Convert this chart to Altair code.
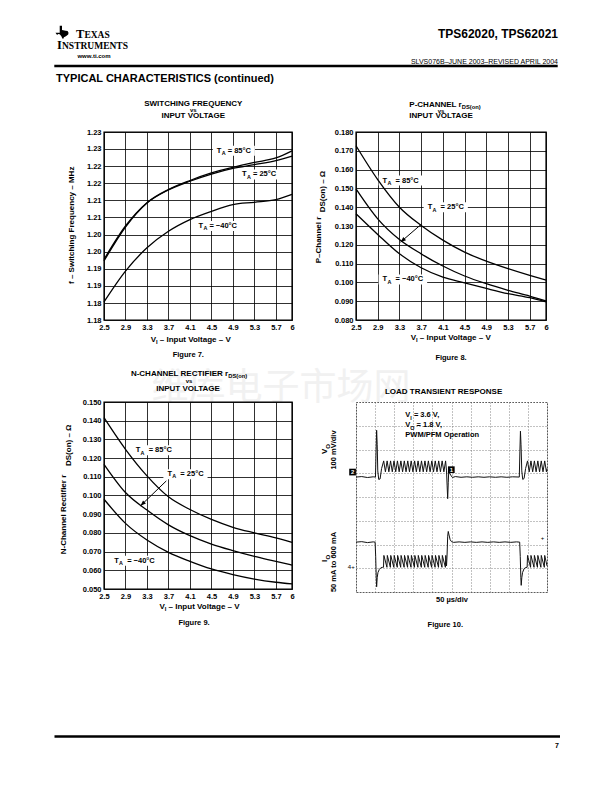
import math
import altair as alt
import pandas as pd

FONT = "Liberation Sans"
SERIF = "Liberation Serif"
CJK = "Noto Sans CJK SC"

# ---------------- data ----------------
V_IN = [2.5, 2.9, 3.3, 3.7, 4.1, 4.5, 4.9, 5.3, 5.7, 6.0]
X_TICKS = [2.5, 2.9, 3.3, 3.7, 4.1, 4.5, 4.9, 5.3, 5.7, 6.0]
TEMPS = ["85", "25", "-40"]

# Figure 7: switching frequency (MHz)
F7_Y_TICKS = [1.1800, 1.1845, 1.1891, 1.1936, 1.1982, 1.2027, 1.2073, 1.2118, 1.2164, 1.2209, 1.2255, 1.2300]
F7_85 = [1.1961, 1.2050, 1.2112, 1.2147, 1.2171, 1.2191, 1.2206, 1.2219, 1.2231, 1.2250]
F7_25 = [1.1957, 1.2047, 1.2111, 1.2146, 1.2169, 1.2188, 1.2203, 1.2213, 1.2224, 1.2236]
F7_M40 = [1.1848, 1.1930, 1.1992, 1.2036, 1.2067, 1.2089, 1.2107, 1.2113, 1.2120, 1.2134]
F7_LBL_V = [4.60, 5.07, 4.26]
F7_LBL_R = [1.2250, 1.2187, 1.2050]

# Figure 8: P-channel rDS(on) (ohm)
F8_Y_TICKS = [0.080, 0.090, 0.100, 0.110, 0.120, 0.130, 0.140, 0.150, 0.160, 0.170, 0.180]
F8_85 = [0.1727, 0.1547, 0.1400, 0.1303, 0.1225, 0.1161, 0.1113, 0.1073, 0.1037, 0.1012]
F8_25 = [0.1497, 0.1338, 0.1228, 0.1152, 0.1087, 0.1034, 0.0993, 0.0958, 0.0927, 0.0901]
F8_M40 = [0.1365, 0.1255, 0.1152, 0.1078, 0.1028, 0.0998, 0.0968, 0.0940, 0.0919, 0.0897]
F8_LBL_V = [2.99, 3.82, 2.99]
F8_LBL_R = [0.1542, 0.1400, 0.1016]
F8_ARROW = [(3.71, 0.1311), (3.32, 0.1214)]

# Figure 9: N-channel rectifier rDS(on) (ohm)
F9_Y_TICKS = [0.050, 0.060, 0.070, 0.080, 0.090, 0.100, 0.110, 0.120, 0.130, 0.140, 0.150]
F9_85 = [0.1416, 0.1247, 0.1105, 0.0993, 0.0925, 0.0872, 0.0830, 0.0800, 0.0773, 0.0749]
F9_25 = [0.1167, 0.1016, 0.0922, 0.0843, 0.0785, 0.0740, 0.0705, 0.0674, 0.0648, 0.0628]
F9_M40 = [0.0980, 0.0851, 0.0762, 0.0696, 0.0648, 0.0607, 0.0577, 0.0553, 0.0536, 0.0527]
F9_LBL_V = [3.09, 3.68, 2.69]
F9_LBL_R = [0.1242, 0.1114, 0.0651]
F9_ARROW = [(3.66, 0.1078), (3.18, 0.0945)]

LBL_TXT = ["= 85°C", "= 25°C", "= −40°C"]

# Figure 10: scope traces (time in divisions, amplitude in divisions)
VO_TRACE = [
    (0.00, 4.84), (0.30, 4.86), (0.60, 4.82), (0.90, 4.85), (1.02, 4.84), (1.05, 5.90), (1.08, 6.81),
    (1.11, 6.20), (1.14, 5.10), (1.19, 4.74), (1.26, 4.76), (1.34, 5.20), (1.45, 5.52),
    (1.54, 5.06), (1.63, 5.52), (1.72, 5.06), (1.81, 5.52), (1.90, 5.06), (1.99, 5.52),
    (2.08, 5.06), (2.17, 5.52), (2.26, 5.06), (2.35, 5.52), (2.44, 5.06), (2.53, 5.52),
    (2.62, 5.06), (2.71, 5.52), (2.80, 5.06), (2.89, 5.52), (2.98, 5.06), (3.07, 5.52),
    (3.16, 5.06), (3.25, 5.52), (3.34, 5.06), (3.43, 5.52), (3.52, 5.06), (3.61, 5.52),
    (3.70, 5.06), (3.79, 5.52), (3.88, 5.06), (3.97, 5.52), (4.06, 5.06), (4.15, 5.52),
    (4.24, 5.06), (4.33, 5.52), (4.42, 5.06), (4.51, 5.52), (4.60, 5.06), (4.69, 5.52),
    (4.74, 5.10), (4.77, 4.50), (4.80, 3.93), (4.83, 4.60), (4.86, 5.20), (4.90, 5.00),
    (4.96, 4.92), (5.05, 4.82), (5.20, 4.86), (5.50, 4.83), (5.80, 4.85), (6.10, 4.83),
    (6.40, 4.85), (6.70, 4.83), (7.00, 4.85), (7.30, 4.83), (7.60, 4.85), (7.90, 4.83),
    (8.20, 4.85), (8.55, 4.84), (8.58, 5.90), (8.61, 6.77), (8.64, 6.20), (8.68, 5.10),
    (8.73, 4.74), (8.80, 4.78), (8.88, 5.20), (8.98, 5.52), (9.07, 5.06), (9.16, 5.52),
    (9.25, 5.06), (9.34, 5.52), (9.43, 5.06), (9.52, 5.52), (9.61, 5.06), (9.70, 5.52),
    (9.79, 5.06), (9.88, 5.52), (9.97, 5.06), (10.00, 5.20),
]
IO_TRACE = [
    (0.00, 2.10), (0.30, 2.12), (0.60, 2.08), (0.90, 2.11), (1.00, 2.10), (1.03, 1.50), (1.06, 0.60),
    (1.08, 0.22), (1.11, 0.60), (1.15, 0.82), (1.22, 0.95), (1.30, 1.02), (1.40, 1.04),
    (1.44, 1.04), (1.46, 1.54), (1.62, 1.04), (1.64, 1.54), (1.80, 1.04), (1.82, 1.54),
    (1.98, 1.04), (2.00, 1.54), (2.16, 1.04), (2.18, 1.54), (2.34, 1.04), (2.36, 1.54),
    (2.52, 1.04), (2.54, 1.54), (2.70, 1.04), (2.72, 1.54), (2.88, 1.04), (2.90, 1.54),
    (3.06, 1.04), (3.08, 1.54), (3.24, 1.04), (3.26, 1.54), (3.42, 1.04), (3.44, 1.54),
    (3.60, 1.04), (3.62, 1.54), (3.78, 1.04), (3.80, 1.54), (3.96, 1.04), (3.98, 1.54),
    (4.14, 1.04), (4.16, 1.54), (4.32, 1.04), (4.34, 1.54), (4.50, 1.04), (4.52, 1.54),
    (4.68, 1.04), (4.70, 1.54), (4.74, 1.10), (4.77, 1.60), (4.80, 2.35), (4.83, 2.55),
    (4.87, 2.40), (4.93, 2.20), (5.00, 2.12), (5.10, 2.09), (5.40, 2.11), (5.70, 2.09),
    (6.00, 2.11), (6.30, 2.09), (6.60, 2.11), (6.90, 2.09), (7.20, 2.11), (7.50, 2.09),
    (7.80, 2.11), (8.10, 2.09), (8.40, 2.11), (8.57, 2.10), (8.60, 1.50), (8.63, 0.60),
    (8.65, 0.28), (8.68, 0.60), (8.72, 0.82), (8.80, 0.98), (8.88, 1.03), (8.96, 1.04),
    (8.98, 1.54), (9.14, 1.04), (9.16, 1.54), (9.32, 1.04), (9.34, 1.54), (9.50, 1.04),
    (9.52, 1.54), (9.68, 1.04), (9.70, 1.54), (9.86, 1.04), (9.88, 1.54), (10.00, 1.10),
]
MARK_T = [-0.18, 4.99]
MARK_Y = [5.05, 5.15]
MARK_TXT = ["2", "1"]
SIDE_T = [-0.25, 9.77]
SIDE_Y = [1.05, 2.29]
SIDE_TXT = ["4+", "+"]

# ---------------- layout (page pixels) ----------------
A7 = (103, 131)          # actual plot origin of figure 7
R7 = (100.7, 130.7)      # reference plot origins
R8 = (355.0, 130.7)
R9 = (105.0, 402.7)
R10 = (355.7, 400.0)
W7, H7 = 188, 188
W8, H8 = 190, 188
W9, H9 = 188, 187
W10, H10 = 191, 190
COL_SP, ROW_SP = 64, 82

TEXAS = ("M-0.35,-1 L0,-1 L0,-0.35 L0.55,-0.25 L0.85,-0.2 L1,0.05 L0.95,0.35 L0.6,0.6 "
         "L0.3,0.75 L0.2,1 L0.05,0.95 L-0.1,0.6 L-0.35,0.3 L-0.6,0.25 L-0.75,0.4 L-1,0.05 L-0.35,0.05 Z")
ARROW = "M0,0 L-0.38,1 L0.38,1 Z"

BW = dict(zip("ABCDEFGHIJKLMNOPQRSTUVWXYZ",
              [.722, .722, .722, .722, .667, .611, .778, .722, .278, .556, .722, .611, .833,
               .722, .778, .667, .778, .722, .667, .611, .722, .667, .944, .667, .667, .611]))
BW.update(zip("abcdefghijklmnopqrstuvwxyz",
              [.556, .611, .556, .611, .556, .333, .611, .611, .278, .278, .556, .278, .889,
               .611, .611, .611, .611, .389, .556, .333, .611, .556, .778, .556, .556, .5]))
BW.update({d: .556 for d in "0123456789"})
BW.update({" ": .278, ".": .278, ",": .278, "-": .333, "–": .556, "−": .584, "=": .584,
           "°": .4, "(": .333, ")": .333, "/": .278, "Ω": .768, "µ": .611})


def tw(s, size):
    return sum(BW.get(c, 0.6) for c in s) * size


def one():
    return pd.DataFrame({"k": [0]})


def txt(s, px, py, org, size=8.0, weight="bold", align="center", angle=0,
        baseline="middle", font=FONT, color="black"):
    return alt.Chart(pd.DataFrame({"s": [s]})).mark_text(
        align=align, baseline=baseline, fontSize=size, fontWeight=weight,
        angle=angle, font=font, color=color,
    ).encode(x=alt.value(px - org[0]), y=alt.value(py - org[1]), text="s:N")


def rich(parts, px, py, org, size=8.0, anchor="left"):
    sub = size * 0.72
    total = sum(tw(s, sub if is_sub else size) for s, is_sub in parts)
    x = px - total / 2 if anchor == "center" else px
    out = []
    for s, is_sub in parts:
        sz = sub if is_sub else size
        lead = len(s) - len(s.lstrip(" "))
        x += lead * BW[" "] * sz
        core = s.strip(" ")
        out.append(txt(core, x, py + (2.4 if is_sub else 0), org, size=sz, align="left"))
        x += tw(core, sz) + (len(s) - lead - len(core)) * BW[" "] * sz
    return out


def hrule(x1, x2, y, org, w):
    return alt.Chart(one()).mark_rule(color="black", strokeWidth=w).encode(
        x=alt.value(x1 - org[0]), x2=alt.value(x2 - org[0]), y=alt.value(y - org[1]))


def grid_axis(values, fmt, pad=3):
    return alt.Axis(values=values, format=fmt, title=None, grid=True, gridColor="black",
                    gridWidth=0.9, gridOpacity=0.9, ticks=False, domain=False,
                    labelFont=FONT, labelFontSize=7.5, labelFontWeight="bold",
                    labelColor="black", labelPadding=pad, labelFlush=False,
                    labelOverlap=False, labelBound=False, zindex=0)


def rds_fig(series, yticks, ydom, yfmt, W, H, lbl_v, lbl_r, gap_spaces, arrow_pts, deco):
    X = alt.X("v:Q", scale=alt.Scale(domain=[2.5, 6.0], nice=False, zero=False),
              axis=grid_axis(X_TICKS, ".2~f", 3.5))
    Y = alt.Y("r:Q", scale=alt.Scale(domain=ydom, nice=False, zero=False),
              axis=grid_axis(yticks, yfmt, 3))
    ppu_x = W / 3.5
    ppu_y = H / (ydom[1] - ydom[0])
    size, ssz = 7.5, 5.4
    dxA = tw("T", size) + 0.3
    dxR = dxA + tw("A", ssz) + gap_spaces * BW[" "] * size
    widths = [dxR + tw(t, size) for t in LBL_TXT]
    bands = pd.DataFrame({"v": [v - 4 / ppu_x for v in lbl_v],
                          "v2": [v + (w + 4) / ppu_x for v, w in zip(lbl_v, widths)],
                          "r": lbl_r})
    band = alt.Chart(bands).mark_rule(color="white", strokeWidth=10).encode(x=X, x2="v2:Q", y=Y)

    rows = [{"v": v, "r": r, "temp": t} for t, ys in zip(TEMPS, series) for v, r in zip(V_IN, ys)]
    lines = alt.Chart(pd.DataFrame(rows)).mark_line(
        color="black", strokeWidth=1.3, interpolate="monotone").encode(x=X, y=Y, detail="temp:N")

    ldf = alt.Chart(pd.DataFrame({"v": lbl_v, "r": lbl_r, "rest": LBL_TXT}))
    common = dict(align="left", baseline="middle", font=FONT, fontWeight="bold", color="black")
    t1 = ldf.mark_text(fontSize=size, **common).encode(x=X, y=Y, text=alt.value("T"))
    t2 = ldf.mark_text(fontSize=ssz, dx=dxA, dy=2.3, **common).encode(x=X, y=Y, text=alt.value("A"))
    t3 = ldf.mark_text(fontSize=size, dx=dxR, **common).encode(x=X, y=Y, text="rest:N")

    layers = [band, lines, t1, t2, t3]
    if arrow_pts:
        p0, p1 = arrow_pts
        adf = pd.DataFrame({"v": [p0[0]], "v2": [p1[0]], "r": [p0[1]], "r2": [p1[1]]})
        layers.append(alt.Chart(adf).mark_rule(color="black", strokeWidth=1).encode(
            x=X, x2="v2:Q", y=Y, y2="r2:Q"))
        dx = (p1[0] - p0[0]) * ppu_x
        dy = -(p1[1] - p0[1]) * ppu_y
        ang = math.degrees(math.atan2(dx, -dy)) % 360
        layers.append(alt.Chart(pd.DataFrame({"v": [p1[0]], "r": [p1[1]]})).mark_point(
            shape=ARROW, filled=True, color="black", size=120, angle=ang, opacity=1,
            strokeWidth=0).encode(x=X, y=Y))
    layers += deco
    return alt.layer(*layers).properties(
        width=W, height=H, view=alt.ViewBackground(stroke="black", strokeWidth=1.4))


def vi_title(cx, y, org):
    return rich([("V", False), ("I", True), (" – Input Voltage – V", False)], cx, y, org, anchor="center")


# ---------------- header / footer (inside figure 7) ----------------
header = [
    alt.Chart(one()).mark_rule(opacity=0, strokeWidth=1).encode(
        x=alt.value(8 - A7[0]), x2=alt.value(9 - A7[0]), y=alt.value(8 - A7[1]), y2=alt.value(8 - A7[1])),
    txt("维库电子市场网", 280, 388, A7, size=37, weight="normal", font=CJK, color="#f1f1f1"),
    alt.Chart(one()).mark_point(shape=TEXAS, filled=True, color="black", size=170, opacity=1,
                                strokeWidth=0).encode(x=alt.value(61 - A7[0]), y=alt.value(31.3 - A7[1])),
    txt("T", 75, 36.5, A7, size=12.5, align="left", baseline="alphabetic", font=SERIF),
    txt("EXAS", 83.4, 36.5, A7, size=9.5, align="left", baseline="alphabetic", font=SERIF),
    txt("I", 56, 48, A7, size=12.5, align="left", baseline="alphabetic", font=SERIF),
    txt("NSTRUMENTS", 61, 48, A7, size=9.5, align="left", baseline="alphabetic", font=SERIF),
    txt("www.ti.com", 93, 55, A7, size=6),
    txt("TPS62020, TPS62021", 557, 33.3, A7, size=12, align="right"),
    txt("SLVS076B–JUNE 2003–REVISED APRIL 2004", 557, 60.7, A7, size=7, weight="normal", align="right"),
    hrule(53.3, 556.7, 65, A7, 2.7),
    txt("TYPICAL CHARACTERISTICS (continued)", 55, 77.7, A7, size=11, align="left"),
    hrule(53.5, 559, 735.6, A7, 2.5),
    txt("7", 558, 745, A7, size=7, align="right"),
]

# ---------------- figure 7 ----------------
deco7 = [
    txt("SWITCHING FREQUENCY", 190, 102.3, R7),
    txt("vs", 190, 108.5, R7, size=6),
    txt("INPUT VOLTAGE", 190, 114.3, R7),
    txt("f – Switching Frequency – MHz", 68.3, 224, R7, angle=270),
    *vi_title(187.7, 338.3, R7),
    txt("Figure 7.", 185, 354, R7, size=7.5),
] + header
f7 = rds_fig([F7_85, F7_25, F7_M40], F7_Y_TICKS, [1.18, 1.23], ".2f", W7, H7,
             F7_LBL_V, F7_LBL_R, 1, None, deco7)

# ---------------- figure 8 ----------------
deco8 = [
    *rich([("P-CHANNEL r", False), ("DS(on)", True)], 444, 103.3, R8, anchor="center"),
    txt("vs", 440, 109.3, R8, size=6),
    txt("INPUT VOLTAGE", 440, 114.8, R8),
    txt("P–Channel r", 318.3, 262, R8, angle=270, align="left"),
    txt("DS(on) – Ω", 322.3, 211, R8, angle=270, align="left"),
    *vi_title(450, 336.7, R8),
    txt("Figure 8.", 450, 356.7, R8, size=7.5),
]
f8 = rds_fig([F8_85, F8_25, F8_M40], F8_Y_TICKS, [0.08, 0.18], ".3f", W8, H8,
             F8_LBL_V, F8_LBL_R, 2, F8_ARROW, deco8)

# ---------------- figure 9 ----------------
deco9 = [
    *rich([("N-CHANNEL RECTIFIER r", False), ("DS(on)", True)], 190, 374.3, R9, anchor="center"),
    txt("vs", 190, 382, R9, size=6),
    txt("INPUT VOLTAGE", 189, 389.5, R9),
    txt("N-Channel Rectifier r", 65, 555, R9, angle=270, align="left"),
    txt("DS(on) – Ω", 70, 466.7, R9, angle=270, align="left"),
    *vi_title(200.8, 607.3, R9),
    txt("Figure 9.", 195, 623.3, R9, size=7.5),
]
f9 = rds_fig([F9_85, F9_25, F9_M40], F9_Y_TICKS, [0.05, 0.15], ".3f", W9, H9,
             F9_LBL_V, F9_LBL_R, 2, F9_ARROW, deco9)


# ---------------- figure 10 ----------------
def scope_axis(values):
    return alt.Axis(values=values, title=None, grid=True, gridColor="#666", gridDash=[1, 2],
                    gridWidth=0.8, labels=False, ticks=False, domain=False, zindex=0)


X10 = alt.X("t:Q", scale=alt.Scale(domain=[0, 10], nice=False, zero=False), axis=scope_axis(list(range(11))))
Y10 = alt.Y("y:Q", scale=alt.Scale(domain=[0, 8], nice=False, zero=False), axis=scope_axis(list(range(9))))

trace_rows = [{"t": t, "y": y, "trace": "VO"} for t, y in VO_TRACE] + \
             [{"t": t, "y": y, "trace": "IO"} for t, y in IO_TRACE]
traces = alt.Chart(pd.DataFrame(trace_rows)).mark_line(
    color="#111", strokeWidth=1.0, interpolate="linear").encode(x=X10, y=Y10, detail="trace:N")
mk = alt.Chart(pd.DataFrame({"t": MARK_T, "y": MARK_Y, "s": MARK_TXT}))
mk_box = mk.mark_point(shape="square", filled=True, color="black", size=45, opacity=1).encode(x=X10, y=Y10)
mk_txt = mk.mark_text(font=FONT, fontSize=6, fontWeight="bold", color="white").encode(x=X10, y=Y10, text="s:N")
side = alt.Chart(pd.DataFrame({"t": SIDE_T, "y": SIDE_Y, "s": SIDE_TXT})).mark_text(
    font=FONT, fontSize=6, color="black", align="center").encode(x=X10, y=Y10, text="s:N")

deco10 = [
    txt("LOAD TRANSIENT RESPONSE", 443.3, 390, R10),
    *rich([("V", False), ("I", True), (" = 3.6 V,", False)], 405, 413.3, R10, size=7.5),
    *rich([("V", False), ("O", True), (" = 1.8 V,", False)], 405, 423.3, R10, size=7.5),
    txt("PWM/PFM Operation", 405, 433.3, R10, size=7.5, align="left"),
    txt("V", 325, 452, R10, angle=270, align="left"),
    txt("O", 328, 446.7, R10, angle=270, align="left", size=6),
    txt("100 mV/div", 334, 448, R10, angle=270, size=7.5),
    txt("I", 325, 560, R10, angle=270, align="left"),
    txt("O", 328, 557.6, R10, angle=270, align="left", size=6),
    txt("50 mA to 600 mA", 334, 560, R10, angle=270, size=7.5),
    txt("50 µs/div", 451.7, 598.3, R10, size=7.5),
    txt("Figure 10.", 445, 623.3, R10, size=7.5),
]
f10 = alt.layer(traces, mk_box, mk_txt, side, *deco10).properties(
    width=W10, height=H10,
    view=alt.ViewBackground(stroke="#555", strokeWidth=1, strokeDash=[1.5, 1.5]))

chart = alt.concat(
    f7, f8, f9, f10, columns=2, bounds="flush", align="each",
    spacing={"row": ROW_SP, "column": COL_SP}, padding=0,
)

chart.save("out.html", embed_options={"renderer": "svg", "actions": False})
